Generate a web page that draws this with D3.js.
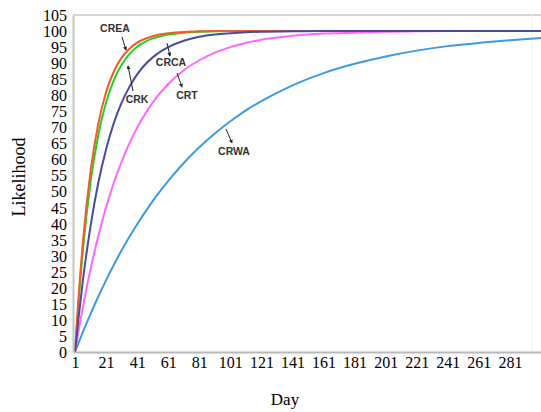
<!DOCTYPE html>
<html><head><meta charset="utf-8">
<script src="https://cdn.jsdelivr.net/npm/d3@7"></script>
<style>html,body{margin:0;padding:0;background:#fff;}svg{display:block;}</style>
</head><body>
<svg id="chart" width="541" height="412"></svg>
<script>
const days = [1,3,6,11,16,21,26,31,36,41,46,51,56,61,71,81,91,101,111,121,141,161,181,201,221,241,261,281,301];
const creaValues = [0,15.3,34.0,56.4,71.2,81.0,87.4,91.7,94.5,96.4,97.6,98.4,99.0,99.3,99.7,99.9,100,100,100,100,100,100,100,100,100,100,100,100,100];
const crkValues  = [0,14,31.5,53,67.7,77.8,84.7,89.5,92.8,95.1,96.6,97.7,98.4,98.9,99.5,99.8,99.9,100,100,100,100,100,100,100,100,100,100,100,100];
const crcaValues = [0,9.5,22.1,39.3,52.8,63.2,71.4,77.7,82.6,86.5,89.5,91.8,93.6,95.0,97.0,98.2,98.9,99.3,99.6,99.8,99.9,100,100,100,100,100,100,100,100];
const crtValues  = [0,5.8,13.9,25.9,36.2,45.1,52.8,59.3,65.0,69.9,74.1,77.7,80.8,83.5,87.8,90.9,93.3,95.0,96.3,97.3,98.5,99.2,99.5,99.8,99.9,100,100,100,100];
const crwaValues = [0,2.5,6.2,11.9,17.3,22.4,27.2,31.7,35.9,39.8,43.5,47.0,50.3,53.3,58.9,63.8,68.1,71.9,75.3,78.2,83.1,86.9,89.8,92.1,93.9,95.3,96.3,97.1,97.8];
const seriesNames = ["CRWA","CRT","CRK","CREA","CRCA"];
const seriesColors = ["#3d9be0","#ff66ff","#22d022","#f45a2a","#4a4aa0"];
const xTicks = [1,21,41,61,81,101,121,141,161,181,201,221,241,261,281];
const yTicks = d3.range(0,106,5);

const svg = d3.select("#chart");
const x = d3.scaleLinear().domain([0,301]).range([73.5,541]);
const y = d3.scaleLinear().domain([0,105]).range([352,15]);

// frame
svg.append("line").attr("x1",73).attr("x2",541).attr("y1",15).attr("y2",15).attr("stroke","#d4d4d4").attr("stroke-width",2);
svg.append("line").attr("x1",532).attr("x2",532).attr("y1",15).attr("y2",352).attr("stroke","#f0f0f0").attr("stroke-width",1);

const seriesData = [crwaValues, crtValues, crkValues, creaValues, crcaValues];
const line = d3.line().x((d,i)=>x(days[i])).y(d=>y(d)).curve(d3.curveMonotoneX);
seriesData.forEach((vals,k)=>{
  svg.append("path").datum(vals).attr("d",line).attr("fill","none")
    .attr("stroke",seriesColors[k]).attr("stroke-width",2);
});

// axes
const xAxis = svg.append("g").attr("transform","translate(0,352)")
  .call(d3.axisBottom(x).tickValues(xTicks).tickSize(0).tickPadding(6));
xAxis.select(".domain").attr("stroke","#b8b8b8").attr("stroke-width",2);
xAxis.selectAll("text").attr("font-family","'Liberation Serif','Times New Roman',serif")
  .attr("font-size","16px").attr("fill","#000").attr("dy","0.62em");
const yAxis = svg.append("g").attr("transform","translate(73,0)")
  .call(d3.axisLeft(y).tickValues(yTicks).tickSize(0).tickPadding(6));
yAxis.select(".domain").attr("stroke","#c4c4c4").attr("stroke-width",2);
yAxis.selectAll("text").attr("font-family","'Liberation Serif','Times New Roman',serif")
  .attr("font-size","16px").attr("fill","#000").attr("dy","0.34em");

svg.append("text").attr("x",285).attr("y",405).attr("text-anchor","middle")
  .attr("font-family","'Liberation Serif','Times New Roman',serif").attr("font-size","17px").attr("fill","#000").text("Day");
svg.append("text").attr("transform","translate(25,177) rotate(-90)").attr("text-anchor","middle")
  .attr("font-family","'Liberation Serif','Times New Roman',serif").attr("font-size","18px").attr("fill","#000").text("Likelihood");

// annotations
const defs = svg.append("defs");
defs.append("marker").attr("id","ah").attr("viewBox","0 0 6 6").attr("refX",5).attr("refY",3)
  .attr("markerWidth",4).attr("markerHeight",4).attr("orient","auto")
  .append("path").attr("d","M0,0L6,3L0,6Z").attr("fill","#222");
const labels = [
  {t:"CREA", lx:115, ly:32, a:[122,37,126,50]},
  {t:"CRK", lx:137, ly:103, a:[133,91,128,66]},
  {t:"CRCA", lx:171, ly:66, a:[167,43,170,56]},
  {t:"CRT", lx:187, ly:99, a:[177,73,182,87]},
  {t:"CRWA", lx:234, ly:155, a:[226,129,232,143]}
];
labels.forEach(l=>{
  svg.append("line").attr("x1",l.a[0]).attr("y1",l.a[1]).attr("x2",l.a[2]).attr("y2",l.a[3])
    .attr("stroke","#222").attr("stroke-width",1).attr("marker-end","url(#ah)");
  svg.append("text").attr("x",l.lx).attr("y",l.ly).attr("text-anchor","middle")
    .attr("font-family","'Liberation Sans',Arial,sans-serif").attr("font-weight","bold")
    .attr("font-size","10.5px").attr("fill","#333").text(l.t);
});
</script>
</body></html>
